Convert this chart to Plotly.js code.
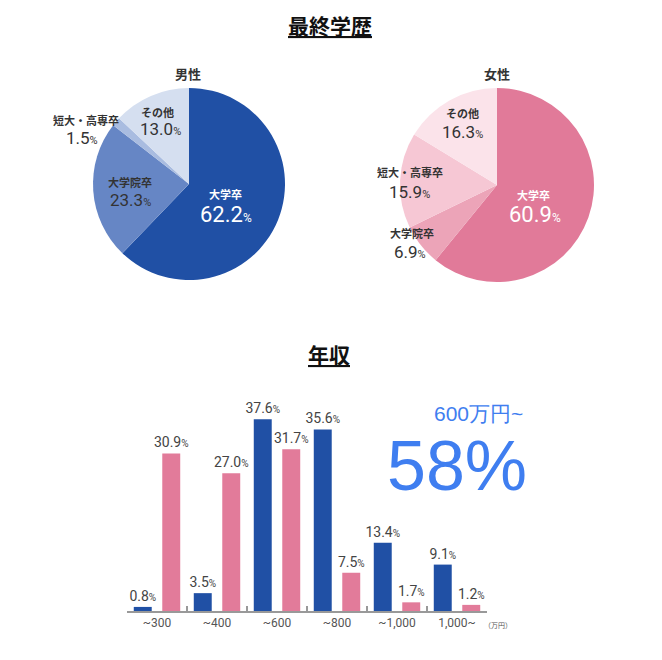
<!DOCTYPE html>
<html>
<head>
<meta charset="utf-8">
<script src="https://cdn.plot.ly/plotly-3.0.1.min.js"></script>
<style>html,body{margin:0;padding:0;background:#fff;}#chart{width:662px;height:660px;}</style>
</head>
<body>
<div id="chart"></div>
<script>
// ---- data ----
const eduLabels = ["大学卒", "大学院卒", "短大・高専卒", "その他"];
const maleEdu = [62.2, 23.3, 1.5, 13.0];
const femaleEdu = [60.9, 6.9, 15.9, 16.3];
const incomeCats = ["~300", "~400", "~600", "~800", "~1,000", "1,000~"];
const maleIncome = [0.8, 3.5, 37.6, 35.6, 13.4, 9.1];
const femaleIncome = [30.9, 27.0, 31.7, 7.5, 1.7, 1.2];

const W = 662, H = 660;
const px = x => x / W;
const py = y => 1 - y / H;

const maleColors = ["#2050a5", "#6686c5", "#a9bce0", "#d5dff0"];
const femaleColors = ["#e17a99", "#eca4b8", "#f6c7d4", "#fbe3ea"];

const JP = "Noto Sans CJK JP";
const NUM = "Roboto, 'Noto Sans CJK JP', sans-serif";

const barText = "%{y:.1f}<span style='font-size:10px'>%</span>";

const traces = [
  {
    type: "pie", labels: eduLabels, values: maleEdu, sort: false,
    direction: "clockwise", rotation: 0, textinfo: "none", hoverinfo: "label+percent",
    marker: {colors: maleColors, line: {width: 0}},
    domain: {x: [px(93), px(285)], y: [py(280), py(88)]}, showlegend: false
  },
  {
    type: "pie", labels: eduLabels, values: femaleEdu, sort: false,
    direction: "clockwise", rotation: 0, textinfo: "none", hoverinfo: "label+percent",
    marker: {colors: femaleColors, line: {width: 0}},
    domain: {x: [px(400), px(594)], y: [py(282), py(88)]}, showlegend: false
  },
  {
    type: "bar", x: incomeCats, y: maleIncome, name: "男性",
    marker: {color: "#2050a5"},
    texttemplate: barText,
    textposition: "outside", constraintext: "none", cliponaxis: false,
    textfont: {family: NUM, size: 14, color: "#444"}, showlegend: false
  },
  {
    type: "bar", x: incomeCats, y: femaleIncome, name: "女性",
    marker: {color: "#e27b9a"},
    texttemplate: barText,
    textposition: "outside", constraintext: "none", cliponaxis: false,
    textfont: {family: NUM, size: 14, color: "#444"}, showlegend: false
  }
];

function lbl(x, y, text, size, color, bold) {
  return {
    xref: "paper", yref: "paper", x: px(x), y: py(y), xanchor: "center", yanchor: "middle",
    showarrow: false, text: bold ? "<b>" + text + "</b>" : text,
    font: {family: bold ? JP : NUM, size: size, color: color}
  };
}
function pct(v, small) {
  return v.toFixed(1) + "<span style='font-size:" + (small || 12) + "px'>%</span>";
}

const annotations = [
  lbl(330, 25, "<u>最終学歴</u>", 21, "#111", true),
  lbl(329, 354, "<u>年収</u>", 21, "#111", true),
  lbl(188, 73, "男性", 13, "#333", true),
  lbl(497, 73, "女性", 13, "#333", true),
  // male
  lbl(225, 194, eduLabels[0], 11, "#fff", true),
  lbl(226, 214, pct(maleEdu[0]), 22, "#fff", false),
  lbl(130, 182, eduLabels[1], 11, "#333", true),
  lbl(130, 200, pct(maleEdu[1], 11), 17, "#333", false),
  lbl(86, 120, eduLabels[2], 11, "#333", true),
  lbl(82, 138, pct(maleEdu[2], 11), 17, "#333", false),
  lbl(157, 112, eduLabels[3], 11, "#333", true),
  lbl(160, 129, pct(maleEdu[3], 11), 17, "#333", false),
  // female
  lbl(533, 195, eduLabels[0], 11, "#fff", true),
  lbl(535, 215, pct(femaleEdu[0]), 22, "#fff", false),
  lbl(412, 233, eduLabels[1], 11, "#333", true),
  lbl(410, 252, pct(femaleEdu[1], 11), 17, "#333", false),
  lbl(410, 172, eduLabels[2], 11, "#333", true),
  lbl(410, 192, pct(femaleEdu[2], 11), 17, "#333", false),
  lbl(462, 113, eduLabels[3], 11, "#333", true),
  lbl(462, 132, pct(femaleEdu[3], 11), 17, "#333", false),
  // highlight
  {xref: "paper", yref: "paper", x: px(478), y: py(413), xanchor: "center", yanchor: "middle",
   showarrow: false, text: "600万円~", font: {family: "Liberation Sans, Arial, sans-serif", size: 21, color: "#3f7ef0"}},
  {xref: "paper", yref: "paper", x: px(457), y: py(466), xanchor: "center", yanchor: "middle",
   showarrow: false, text: "58%", font: {family: "Liberation Sans, Arial, sans-serif", size: 70, color: "#3f7ef0"}},
  {xref: "paper", yref: "paper", x: px(498), y: py(625), xanchor: "center", yanchor: "middle",
   showarrow: false, text: "（万円）", font: {family: JP, size: 7, color: "#555"}}
];

const layout = {
  width: W, height: H,
  margin: {l: 0, r: 0, t: 0, b: 0},
  paper_bgcolor: "#fff", plot_bgcolor: "#fff",
  barmode: "group", bargap: 0.05, bargroupgap: 0.37,
  xaxis: {
    domain: [px(127), px(487)], type: "category",
    showline: true, linecolor: "#999", linewidth: 1.5,
    ticks: "inside", ticklen: 5, tickcolor: "#999", tickwidth: 1.2, tickson: "boundaries",
    tickfont: {family: NUM, size: 12, color: "#555"}, showgrid: false, zeroline: false,
    fixedrange: true
  },
  yaxis: {
    domain: [py(611), py(407)], range: [0, 40], visible: false, fixedrange: true
  },
  annotations: annotations,
  showlegend: false
};

Plotly.newPlot("chart", traces, layout, {displayModeBar: false, staticPlot: true});
</script>
</body>
</html>
